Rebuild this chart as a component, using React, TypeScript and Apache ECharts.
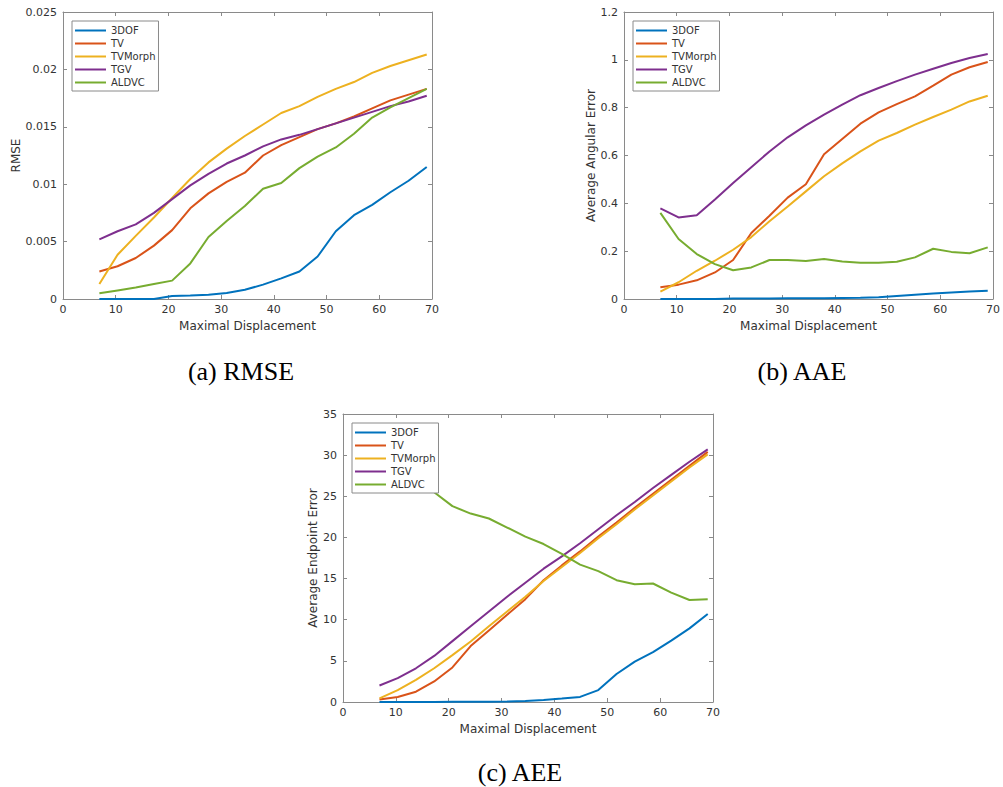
import React, { useEffect, useRef } from "react";
import * as echarts from "echarts";

const X = [6.9, 10.35, 13.8, 17.25, 20.7, 24.15, 27.6, 31.05, 34.5, 37.95, 41.4, 44.85, 48.3, 51.75, 55.2, 58.65, 62.1, 65.55, 69];
const NAMES = ["3DOF", "TV", "TVMorph", "TGV", "ALDVC"];
const COLORS = ["#0072BD", "#D95319", "#EDB120", "#7E2F8E", "#77AC30"];

// (a) RMSE
const rmse3DOF = [0, 0, 0, 0, 0.00026, 0.0003, 0.00037, 0.00052, 0.0008, 0.00125, 0.0018, 0.0024, 0.0037, 0.0059, 0.0073, 0.0082, 0.0093, 0.0103, 0.0115];
const rmseTV = [0.0024, 0.00285, 0.00357, 0.00465, 0.006, 0.0079, 0.0092, 0.0102, 0.011, 0.0125, 0.0134, 0.0141, 0.0148, 0.0153, 0.0159, 0.0166, 0.0173, 0.0178, 0.0183];
const rmseTVMorph = [0.0013, 0.00385, 0.0055, 0.0071, 0.0088, 0.01045, 0.0119, 0.0131, 0.0142, 0.0152, 0.0162, 0.0168, 0.0176, 0.0183, 0.0189, 0.0197, 0.0203, 0.0208, 0.0213];
const rmseTGV = [0.0052, 0.0059, 0.0065, 0.0075, 0.0087, 0.0099, 0.0109, 0.0118, 0.0125, 0.0133, 0.0139, 0.0143, 0.0148, 0.0153, 0.0158, 0.0163, 0.0168, 0.0172, 0.0177];
const rmseALDVC = [0.0005, 0.00075, 0.001, 0.0013, 0.0016, 0.0031, 0.0054, 0.0068, 0.0081, 0.0096, 0.0101, 0.0114, 0.0124, 0.0132, 0.0144, 0.0158, 0.0167, 0.0175, 0.0183];

// (b) AAE
const aae3DOF = [0, 0, 0, 0, 0.002, 0.002, 0.002, 0.003, 0.003, 0.003, 0.004, 0.005, 0.007, 0.013, 0.018, 0.023, 0.027, 0.031, 0.035];
const aaeTV = [0.049, 0.06, 0.078, 0.111, 0.163, 0.276, 0.348, 0.424, 0.48, 0.605, 0.669, 0.733, 0.78, 0.815, 0.847, 0.892, 0.938, 0.969, 0.991];
const aaeTVMorph = [0.031, 0.07, 0.118, 0.16, 0.206, 0.259, 0.325, 0.387, 0.45, 0.513, 0.567, 0.617, 0.662, 0.694, 0.729, 0.761, 0.792, 0.826, 0.85];
const aaeTGV = [0.379, 0.341, 0.35, 0.416, 0.485, 0.551, 0.617, 0.676, 0.726, 0.771, 0.813, 0.852, 0.882, 0.911, 0.938, 0.963, 0.987, 1.008, 1.024];
const aaeALDVC = [0.36, 0.251, 0.188, 0.146, 0.12, 0.132, 0.163, 0.163, 0.159, 0.167, 0.157, 0.152, 0.152, 0.156, 0.174, 0.21, 0.197, 0.191, 0.216];

// (c) AEE
const aee3DOF = [0, 0, 0, 0, 0.02, 0.03, 0.04, 0.06, 0.12, 0.25, 0.42, 0.62, 1.45, 3.4, 4.9, 6.05, 7.45, 8.95, 10.7];
const aeeTV = [0.3, 0.6, 1.25, 2.5, 4.2, 6.8, 8.7, 10.6, 12.5, 14.8, 16.6, 18.3, 20.1, 21.8, 23.6, 25.3, 27.0, 28.7, 30.4];
const aeeTVMorph = [0.45, 1.45, 2.7, 4.1, 5.7, 7.35, 9.2, 11.0, 12.8, 14.7, 16.4, 18.1, 19.9, 21.6, 23.4, 25.1, 26.8, 28.5, 30.1];
const aeeTGV = [2.0, 2.9, 4.1, 5.6, 7.4, 9.2, 11.0, 12.8, 14.5, 16.2, 17.7, 19.3, 21.0, 22.7, 24.3, 26.0, 27.6, 29.2, 30.7];
const aeeALDVC = [31.5, 29.5, 27.5, 25.5, 23.8, 22.9, 22.3, 21.2, 20.1, 19.2, 18.0, 16.7, 15.9, 14.8, 14.3, 14.4, 13.3, 12.4, 12.5];

const PANELS = [
  { yName: "RMSE", yMax: 0.025, yInterval: 0.005, caption: "(a) RMSE", series: [rmse3DOF, rmseTV, rmseTVMorph, rmseTGV, rmseALDVC] },
  { yName: "Average Angular Error", yMax: 1.2, yInterval: 0.2, caption: "(b) AAE", series: [aae3DOF, aaeTV, aaeTVMorph, aaeTGV, aaeALDVC] },
  { yName: "Average Endpoint Error", yMax: 35, yInterval: 5, caption: "(c) AEE", series: [aee3DOF, aeeTV, aeeTVMorph, aeeTGV, aeeALDVC] },
];

const GRIDS = [
  { left: 63, top: 12, width: 369, height: 287 },
  { left: 624, top: 12, width: 369, height: 287 },
  { left: 343, top: 414, width: 370, height: 288 },
];
const NAME_GAPS = [41, 26, 23];
const LEGEND_POS = [
  { left: 72, top: 21 },
  { left: 633, top: 21 },
  { left: 352, top: 423 },
];
const CAPTION_POS = [
  [241, 371],
  [802, 371],
  [520, 772],
];

const FONT = "DejaVu Sans";
const AXIS_COLOR = "#8a8a8a";
const TEXT_COLOR = "#333";

export default function App() {
  const ref = useRef<HTMLDivElement>(null);
  useEffect(() => {
    if (!ref.current) return;
    const chart = echarts.init(ref.current, null, { renderer: "svg" });
    const axisCommon = {
      axisLine: { show: true, onZero: false, lineStyle: { color: AXIS_COLOR, width: 1 } },
      axisTick: { show: true, inside: true, length: 4, lineStyle: { color: AXIS_COLOR } },
      splitLine: { show: false },
    };
    const xAxis: any[] = [];
    const yAxis: any[] = [];
    const series: any[] = [];
    PANELS.forEach((p, g) => {
      xAxis.push({
        type: "value", gridIndex: g, min: 0, max: 70, interval: 10, position: "bottom",
        name: "Maximal Displacement", nameLocation: "middle", nameGap: 21,
        nameTextStyle: { fontFamily: FONT, fontSize: 12, color: TEXT_COLOR },
        axisLabel: { fontFamily: FONT, fontSize: 11, color: TEXT_COLOR, margin: 5 },
        ...axisCommon,
      });
      xAxis.push({
        type: "value", gridIndex: g, min: 0, max: 70, interval: 10, position: "top",
        axisLabel: { show: false }, ...axisCommon,
      });
      yAxis.push({
        type: "value", gridIndex: g, min: 0, max: p.yMax, interval: p.yInterval, position: "left",
        name: p.yName, nameLocation: "middle", nameGap: NAME_GAPS[g],
        nameTextStyle: { fontFamily: FONT, fontSize: 12, color: TEXT_COLOR },
        axisLabel: { fontFamily: FONT, fontSize: 11, color: TEXT_COLOR, margin: 6 },
        ...axisCommon,
      });
      yAxis.push({
        type: "value", gridIndex: g, min: 0, max: p.yMax, interval: p.yInterval, position: "right",
        axisLabel: { show: false }, ...axisCommon,
      });
      p.series.forEach((vals, k) => {
        series.push({
          type: "line", name: NAMES[k], xAxisIndex: g * 2, yAxisIndex: g * 2,
          data: X.map((x, i) => [x, vals[i]]),
          symbol: "none", showSymbol: false,
          lineStyle: { width: 2, color: COLORS[k] },
          itemStyle: { color: COLORS[k] },
          z: 2,
        });
      });
    });
    const legend = LEGEND_POS.map((pos) => ({
      ...pos, orient: "vertical", data: NAMES, icon: "rect",
      itemWidth: 31, itemHeight: 2, itemGap: 0, padding: [3, 3, 2, 3],
      backgroundColor: "#fff", borderColor: AXIS_COLOR, borderWidth: 1, borderRadius: 0,
      selectedMode: false,
      textStyle: { fontFamily: FONT, fontSize: 10, color: TEXT_COLOR, lineHeight: 13 },
    }));
    const graphic = PANELS.map((p, g) => ({
      type: "text", x: CAPTION_POS[g][0], y: CAPTION_POS[g][1],
      style: {
        text: p.caption, font: '26px "Liberation Serif"', fill: "#000",
        textAlign: "center", textVerticalAlign: "middle", verticalAlign: "middle",
      },
    }));
    chart.setOption({
      animation: false,
      backgroundColor: "#fff",
      color: COLORS,
      grid: GRIDS.map((gr) => ({ ...gr, containLabel: false })),
      xAxis, yAxis, series, legend, graphic,
    });
    return () => chart.dispose();
  }, []);
  return <div ref={ref} style={{ position: "fixed", left: 0, top: 0, width: 1003, height: 787 }} />;
}
